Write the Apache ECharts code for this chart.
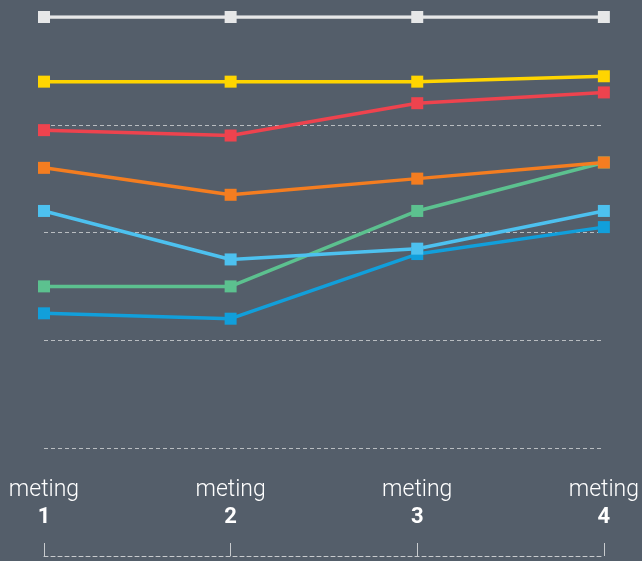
<!DOCTYPE html>
<html>
<head>
<meta charset="utf-8">
<script src="https://cdn.jsdelivr.net/npm/echarts@6/dist/echarts.min.js"></script>
<style>
  html, body { margin: 0; padding: 0; background: #545e6a; }
  #main { width: 642px; height: 561px; }
</style>
</head>
<body>
<div id="main"></div>
<script>
  // metingen
  const categories = ['1', '2', '3', '4'];

  // scores per lijn (schaal 1-5)
  const blauw = [2.25, 2.2, 2.8, 3.05];
  const groen = [2.5, 2.5, 3.2, 3.65];
  const lichtblauw = [3.2, 2.75, 2.85, 3.2];
  const oranje = [3.6, 3.35, 3.5, 3.65];
  const rood = [3.95, 3.9, 4.2, 4.3];
  const geel = [4.4, 4.4, 4.4, 4.45];
  const wit = [5, 5, 5, 5];

  const seriesList = [
    { data: blauw, color: '#119fdb' },
    { data: groen, color: '#5cc18f' },
    { data: lichtblauw, color: '#4dc1ef' },
    { data: oranje, color: '#f47d20' },
    { data: rood, color: '#ee434e' },
    { data: geel, color: '#ffd500' },
    { data: wit, color: '#e6e7e8' }
  ];

  let myChart = echarts.init(document.getElementById('main'));

  let option = {
    backgroundColor: '#545e6a',
    animation: false,
    grid: {
      left: 44,
      right: 37,
      top: 17,
      bottom: 113
    },
    xAxis: {
      type: 'category',
      data: categories,
      boundaryGap: false,
      offset: 108,
      axisLine: {
        show: true,
        lineStyle: { color: '#c8cbce', width: 1, type: [4, 3] }
      },
      axisTick: {
        show: true,
        inside: true,
        length: 13,
        lineStyle: { color: '#c8cbce', width: 1 }
      },
      axisLabel: {
        inside: true,
        margin: 26,
        interval: 0,
        formatter: v => '{a|meting}\n{b|' + v + '}',
        rich: {
          a: { color: '#ffffff', fontFamily: 'Roboto', fontSize: 23, fontWeight: 300, lineHeight: 27 },
          b: { color: '#ffffff', fontFamily: 'Roboto', fontSize: 22, fontWeight: 'bold', lineHeight: 26 }
        }
      },
      splitLine: { show: false }
    },
    yAxis: {
      type: 'value',
      min: 1,
      max: 5,
      interval: 1,
      axisLine: { show: false },
      axisTick: { show: false },
      axisLabel: { show: false },
      splitLine: {
        show: true,
        lineStyle: { color: '#b9bdc1', width: 1, type: [4, 3] }
      }
    },
    series: seriesList.map(s => {
      return {
        type: 'line',
        data: s.data,
        symbol: 'rect',
        symbolSize: 12,
        showSymbol: true,
        lineStyle: { color: s.color, width: 3.5 },
        itemStyle: { color: s.color }
      }
    })
  };

  myChart.setOption(option);
</script>
</body>
</html>
